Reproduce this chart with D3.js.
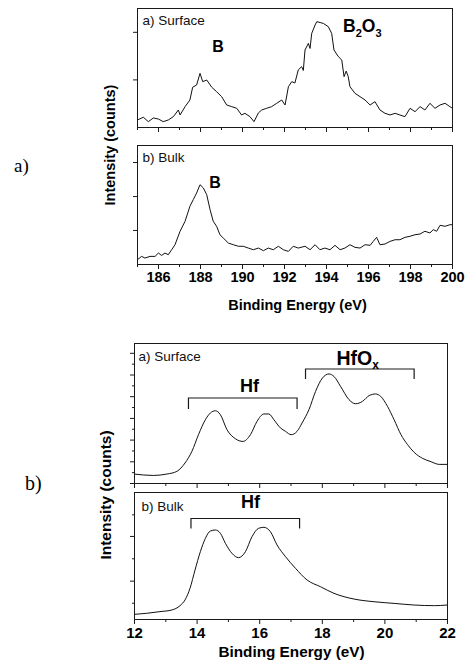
<!DOCTYPE html>
<html><head><meta charset="utf-8">
<script src="https://cdn.jsdelivr.net/npm/d3@7"></script>
<style>body{margin:0;background:#fff}svg{display:block}</style>
</head><body>
<svg id="c" width="468" height="663"></svg>
<script>
// ---------------- data ----------------
// B 1s spectra (binding energy eV, relative intensity)
const boronSurface = [[185.02,5.9],[185.30,8.2],[185.54,4.5],[185.78,7.6],[186.02,6.7],[186.25,4.5],[186.49,5.9],[186.73,8.7],[186.97,14.3],[187.05,10.1],[187.29,17.1],[187.52,22.7],[187.65,33.4],[187.84,35.3],[188.0,45.1],[188.13,38.1],[188.32,39.5],[188.56,33.4],[188.79,29.7],[189.03,25.5],[189.27,18.5],[189.51,17.1],[189.75,15.7],[189.98,10.1],[190.14,11.5],[190.38,8.7],[190.57,4.5],[190.78,11.8],[190.94,14.3],[191.17,15.7],[191.41,17.1],[191.65,19.9],[191.89,22.7],[192.05,18.5],[192.21,33.9],[192.37,38.1],[192.52,37.0],[192.68,48.0],[192.84,50.7],[192.92,47.5],[193.0,64.7],[193.16,70.3],[193.24,66.0],[193.32,78.7],[193.48,85.7],[193.56,88.5],[193.72,87.8],[193.87,87.1],[194.11,84.3],[194.27,78.7],[194.38,64.7],[194.59,59.1],[194.75,56.3],[194.86,42.3],[194.96,47.0],[195.06,42.3],[195.14,33.9],[195.38,28.3],[195.62,25.5],[195.86,22.7],[196.10,18.5],[196.33,21.3],[196.57,14.3],[196.81,11.5],[197.05,10.1],[197.29,11.5],[197.52,10.1],[197.76,8.7],[198.0,15.7],[198.24,12.9],[198.48,17.1],[198.71,14.3],[198.95,19.9],[199.19,15.7],[199.43,18.5],[199.67,19.9],[199.90,17.1],[200.0,16.0]];
const boronBulk = [[185.02,3.6],[185.22,6.4],[185.38,5.0],[185.62,6.4],[185.86,6.4],[186.02,9.2],[186.17,7.2],[186.33,9.2],[186.49,7.8],[186.65,12.0],[186.81,16.2],[187.05,27.5],[187.29,35.9],[187.52,48.5],[187.68,54.1],[187.84,59.7],[188.0,66.6],[188.16,63.9],[188.32,58.2],[188.48,45.6],[188.63,35.9],[188.79,31.7],[188.95,24.6],[189.11,21.8],[189.35,17.6],[189.59,16.2],[189.83,14.9],[190.06,14.9],[190.30,13.4],[190.54,12.0],[190.78,13.4],[191.02,11.2],[191.25,13.4],[191.49,12.0],[191.73,14.9],[191.97,12.0],[192.21,10.6],[192.44,14.9],[192.68,13.4],[193.0,14.9],[193.24,12.0],[193.48,16.2],[193.71,12.0],[193.95,13.4],[194.19,12.0],[194.43,15.7],[194.67,12.0],[194.90,13.4],[195.14,16.2],[195.38,14.0],[195.62,13.4],[195.86,16.2],[196.10,15.7],[196.25,19.0],[196.41,22.4],[196.57,16.2],[196.81,16.8],[197.05,19.0],[197.29,20.4],[197.52,20.4],[197.76,22.4],[198.0,23.3],[198.24,24.6],[198.48,25.2],[198.71,27.5],[198.95,26.1],[199.11,28.9],[199.27,27.5],[199.43,32.5],[199.67,31.7],[199.90,33.0],[200.0,33.0]];
// Hf 4f / valence spectra
const hfSurface = [[12.0,6.4],[12.62,5.4],[13.05,6.4],[13.37,8.3],[13.63,14.3],[13.85,22.6],[14.06,34.5],[14.28,45.2],[14.44,50.0],[14.6,51.6],[14.76,48.8],[14.97,38.1],[15.24,31.6],[15.48,29.7],[15.72,34.5],[15.93,44.0],[16.15,49.3],[16.31,49.3],[16.47,45.2],[16.68,39.3],[16.84,36.9],[17.02,34.5],[17.21,36.9],[17.37,42.9],[17.59,52.4],[17.80,65.4],[18.02,75.0],[18.23,77.9],[18.39,76.1],[18.60,69.0],[18.87,59.5],[19.08,56.6],[19.30,58.3],[19.51,62.4],[19.72,63.6],[19.88,61.9],[20.10,54.7],[20.31,45.2],[20.53,34.5],[20.74,27.4],[20.95,21.9],[21.22,17.6],[21.49,15.2],[21.75,13.3],[22.0,13.3]];
const hfBulk = [[12.03,3.7],[12.41,4.5],[12.83,5.8],[13.21,7.1],[13.47,10.5],[13.63,15.0],[13.79,24.2],[13.95,38.6],[14.12,53.0],[14.28,63.5],[14.44,69.3],[14.6,70.1],[14.76,67.5],[14.92,59.6],[15.13,51.7],[15.34,48.3],[15.56,53.0],[15.77,64.8],[15.98,71.4],[16.15,72.2],[16.36,68.7],[16.57,58.3],[16.84,49.1],[17.16,39.9],[17.53,30.7],[17.96,25.4],[18.39,20.2],[19.03,15.7],[19.67,13.6],[20.31,12.3],[20.95,11.0],[21.6,10.5],[22.0,11.0]];

const boronTickLabels = [186,188,190,192,194,196,198,200];
const hfTickLabels = [12,14,16,18,20,22];
const boronXDomain = [185, 200];
const hfXDomain = [12, 22];
const boronSurfaceYTicks = [40, 80];
const boronBulkYTicks = [28.6, 57.1, 85.7];
const hfSurfaceYMajor = [0, 15.5, 31, 46.5, 62, 77.5, 93];
const hfSurfaceYMinor = [7.75, 23.25, 38.75, 54.25, 69.75, 85.25];
const hfBulkYMajor = [30.2, 65.4];
const hfBulkYMinor = [12.8, 47.8, 82.4];
const hfBrackets = {surface: [[13.74, 17.21], [17.48, 20.95]], bulk: [[13.82, 17.29]]};

// ---------------- drawing ----------------
const svg = d3.select("#c");
const SANS = "'Liberation Sans', Arial, Helvetica, sans-serif";
const SERIF = "'Liberation Serif', 'Times New Roman', serif";
const INK = "#1a1a1a";

function panel(o) {
  const x = d3.scaleLinear().domain(o.xDomain).range(o.xRange);
  const y = d3.scaleLinear().domain([0, 100]).range(o.yRange);
  const g = svg.append("g");
  const [x0, x1] = o.xRange, [yb, yt] = o.yRange;

  // x ticks (bottom, outward)
  const minorX = d3.range(o.xDomain[0], o.xDomain[1] + 0.001, 1).filter(v => !o.majorX.includes(v));
  const axMinor = g.append("g").attr("transform", `translate(0,${yb})`)
    .call(d3.axisBottom(x).tickValues(minorX).tickSize(3).tickFormat(""));
  const axMajor = g.append("g").attr("transform", `translate(0,${yb})`)
    .call(d3.axisBottom(x).tickValues(o.majorX).tickSize(5).tickPadding(3)
      .tickFormat(o.showLabels ? d3.format("d") : ""));
  // y ticks (left, outward)
  const ayMaj = g.append("g").attr("transform", `translate(${x0},0)`)
    .call(d3.axisLeft(y).tickValues(o.yMajor).tickSize(4).tickFormat(""));
  let ayMin = null;
  if (o.yMinor) ayMin = g.append("g").attr("transform", `translate(${x0},0)`)
    .call(d3.axisLeft(y).tickValues(o.yMinor).tickSize(2).tickFormat(""));
  [axMinor, axMajor, ayMaj, ayMin].forEach(a => {
    if (!a) return;
    a.select(".domain").remove();
    a.selectAll("line").attr("stroke", INK).attr("stroke-width", 1);
    a.selectAll("text").attr("fill", "#000").attr("font-family", SANS)
      .attr("font-weight", "bold").attr("font-size", o.tickFont || 15);
  });

  // curve
  g.append("path").datum(o.data)
    .attr("fill", "none").attr("stroke", "#111").attr("stroke-width", o.lw || 1)
    .attr("stroke-linejoin", "round")
    .attr("d", d3.line().x(d => x(d[0])).y(d => y(d[1])).curve(o.curve || d3.curveLinear));

  // frame
  g.append("rect").attr("x", x0 + 0.5).attr("y", yt + 0.5)
    .attr("width", x1 - x0).attr("height", yb - yt)
    .attr("fill", "none").attr("stroke", INK).attr("stroke-width", 1);

  // panel label
  g.append("text").attr("x", o.labelPos[0]).attr("y", o.labelPos[1])
    .attr("font-family", SANS).attr("font-size", 13.5).attr("fill", "#111").text(o.label);

  // brackets
  (o.brackets || []).forEach(b => {
    const yy = o.bracketY;
    g.append("path")
      .attr("d", `M${x(b[0])},${yy + 11}V${yy}H${x(b[1])}V${yy + 11}`)
      .attr("fill", "none").attr("stroke", INK).attr("stroke-width", 1.2);
  });
  return {x, y, g};
}

// ---- Chart a) : B 1s ----
const topX = [137, 452];
const pA1 = panel({xDomain: boronXDomain, xRange: topX, yRange: [127, 8], data: boronSurface,
  majorX: boronTickLabels, showLabels: false, yMajor: boronSurfaceYTicks, label: "a) Surface", labelPos: [142.5, 25]});
const pA2 = panel({xDomain: boronXDomain, xRange: topX, yRange: [264, 145], data: boronBulk,
  majorX: boronTickLabels, showLabels: true, tickFont: 14.5, yMajor: boronBulkYTicks, label: "b) Bulk", labelPos: [142.5, 162]});

// annotations chart a)
svg.append("text").attr("x", 218).attr("y", 52).attr("text-anchor", "middle")
  .attr("font-family", SANS).attr("font-weight", "bold").attr("font-size", 16).text("B");
const b2o3 = svg.append("text").attr("x", 343).attr("y", 32)
  .attr("font-family", SANS).attr("font-weight", "bold").attr("font-size", 17.5);
b2o3.append("tspan").text("B");
b2o3.append("tspan").attr("font-size", 11).attr("dy", 5).text("2");
b2o3.append("tspan").attr("dy", -5).text("O");
b2o3.append("tspan").attr("font-size", 11).attr("dy", 5).text("3");
svg.append("text").attr("x", 215).attr("y", 187.5).attr("text-anchor", "middle")
  .attr("font-family", SANS).attr("font-weight", "bold").attr("font-size", 16).text("B");

svg.append("text").attr("x", (topX[0] + topX[1]) / 2 + 3).attr("y", 309.5).attr("text-anchor", "middle")
  .attr("font-family", SANS).attr("font-weight", "bold").attr("font-size", 14.5).text("Binding Energy (eV)");
svg.append("text").attr("transform", "translate(115,145) rotate(-90)").attr("text-anchor", "middle")
  .attr("font-family", SANS).attr("font-weight", "bold").attr("font-size", 14.5).text("Intensity (counts)");
svg.append("text").attr("x", 14).attr("y", 172).attr("font-family", SERIF).attr("font-size", 19).text("a)");

// ---- Chart b) : Hf ----
const botX = [134, 447];
const pB1 = panel({xDomain: hfXDomain, xRange: botX, yRange: [483, 343], data: hfSurface,
  majorX: hfTickLabels, showLabels: false, yMajor: hfSurfaceYMajor, yMinor: hfSurfaceYMinor,
  curve: d3.curveMonotoneX, label: "a) Surface", labelPos: [138.5, 361]});
const pB2 = panel({xDomain: hfXDomain, xRange: botX, yRange: [619, 492], data: hfBulk,
  majorX: hfTickLabels, showLabels: true, tickFont: 15, yMajor: hfBulkYMajor, yMinor: hfBulkYMinor,
  curve: d3.curveMonotoneX, label: "b) Bulk", labelPos: [141.5, 511]});

// brackets
function bracket(p, b, yy, h) {
  svg.append("path").attr("d", `M${p.x(b[0])},${yy + h}V${yy}H${p.x(b[1])}V${yy + h}`)
    .attr("fill", "none").attr("stroke", INK).attr("stroke-width", 1.2);
}
bracket(pB1, hfBrackets.surface[0], 398, 11);
bracket(pB1, hfBrackets.surface[1], 369, 10);
bracket(pB2, hfBrackets.bulk[0], 518.5, 10);

svg.append("text").attr("x", 249.5).attr("y", 391.5).attr("text-anchor", "middle")
  .attr("font-family", SANS).attr("font-weight", "bold").attr("font-size", 18).text("Hf");
const hfo = svg.append("text").attr("x", 336.5).attr("y", 364.5)
  .attr("font-family", SANS).attr("font-weight", "bold").attr("font-size", 19.5);
hfo.append("tspan").text("HfO");
hfo.append("tspan").attr("font-size", 12).attr("dy", 4).text("x");
svg.append("text").attr("x", 250.5).attr("y", 508).attr("text-anchor", "middle")
  .attr("font-family", SANS).attr("font-weight", "bold").attr("font-size", 18).text("Hf");

svg.append("text").attr("x", (botX[0] + botX[1]) / 2 + 1).attr("y", 656.5).attr("text-anchor", "middle")
  .attr("font-family", SANS).attr("font-weight", "bold").attr("font-size", 15.3).text("Binding Energy (eV)");
svg.append("text").attr("transform", "translate(111,495) rotate(-90)").attr("text-anchor", "middle")
  .attr("font-family", SANS).attr("font-weight", "bold").attr("font-size", 15.5).text("Intensity (counts)");
svg.append("text").attr("x", 25).attr("y", 490).attr("font-family", SERIF).attr("font-size", 20).text("b)");
</script>
</body></html>
